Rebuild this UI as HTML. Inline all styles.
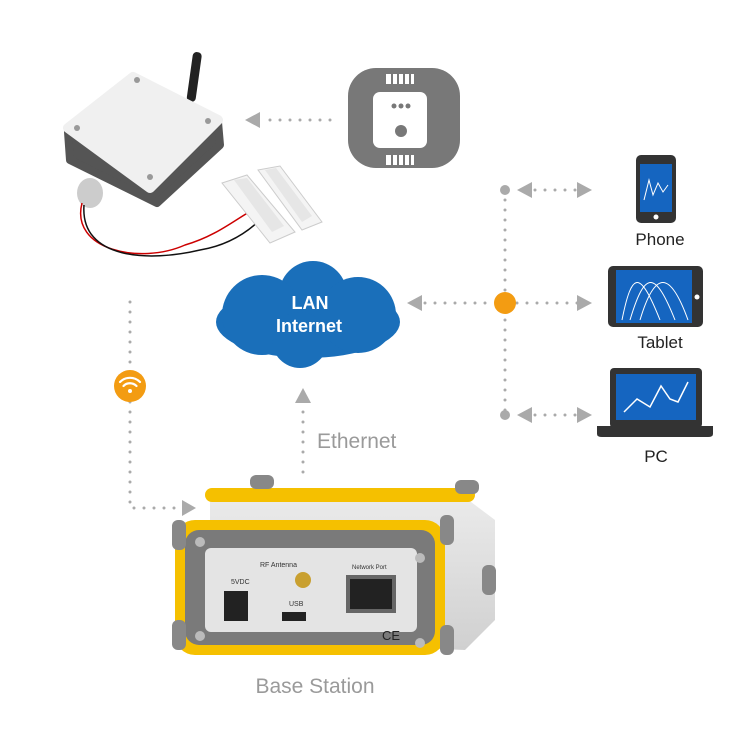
<!DOCTYPE html>
<html><head><meta charset="utf-8"><style>body{margin:0;background:#fff}svg{display:block}</style></head><body>
<svg width="750" height="750" viewBox="0 0 750 750" xmlns="http://www.w3.org/2000/svg" font-family="Liberation Sans, sans-serif">
<defs>
<linearGradient id="sil" x1="0" y1="0" x2="0" y2="1"><stop offset="0" stop-color="#ececec"/><stop offset="1" stop-color="#d0d0d0"/></linearGradient>
</defs>
<g stroke="#aaa" stroke-width="3" stroke-linecap="round" stroke-dasharray="0 10" fill="none">
<path d="M130 302 V508 H180"/>
<path d="M303 472 V408"/>
<path d="M330 120 H262"/>
<path d="M505 190 V415"/>
<path d="M425 303 H495 M517 303 H578"/>
<path d="M535 190 H578 M535 415 H578"/>
</g>
<g fill="#aaa">
<polygon points="196,508 182,500 182,516"/>
<polygon points="303,388 295,403 311,403"/>
<polygon points="245,120 260,112 260,128"/>
<polygon points="407,303 422,295 422,311"/>
<polygon points="592,303 577,295 577,311"/>
<polygon points="517,190 532,182 532,198"/>
<polygon points="592,190 577,182 577,198"/>
<polygon points="517,415 532,407 532,423"/>
<polygon points="592,415 577,407 577,423"/>
<circle cx="505" cy="190" r="5"/><circle cx="505" cy="415" r="5"/>
</g>
<circle cx="505" cy="303" r="11" fill="#f39c12"/>
<circle cx="130" cy="386" r="16" fill="#f39c12"/>
<g fill="none" stroke="#fff" stroke-width="2.2" stroke-linecap="round">
<path d="M120 382 A14 14 0 0 1 140 382"/><path d="M123.5 386 A9 9 0 0 1 136.5 386"/>
</g>
<circle cx="130" cy="391" r="2" fill="#fff"/>
<g fill="#1a6fba">
<ellipse cx="308" cy="322" rx="92" ry="36"/>
<circle cx="313" cy="295" r="34"/>
<circle cx="262" cy="315" r="40"/>
<circle cx="358" cy="315" r="38"/>
<circle cx="300" cy="340" r="28"/>
</g>
<text x="310" y="309" fill="#fff" font-size="18" font-weight="bold" text-anchor="middle">LAN</text>
<text x="309" y="332" fill="#fff" font-size="18" font-weight="bold" text-anchor="middle">Internet</text>
<text x="317" y="448" fill="#9a9a9a" font-size="21" font-family="Liberation Sans Narrow, Liberation Sans, sans-serif">Ethernet</text>
<rect x="348" y="68" width="112" height="100" rx="28" fill="#787878"/>
<rect x="373" y="92" width="54" height="56" rx="7" fill="#fff"/>
<g fill="#fff"><rect x="386" y="74" width="28" height="10"/><rect x="386" y="155" width="28" height="10"/></g>
<g fill="#787878"><rect x="391" y="74" width="2" height="10"/><rect x="397" y="74" width="2" height="10"/><rect x="403" y="74" width="2" height="10"/><rect x="409" y="74" width="2" height="10"/>
<rect x="391" y="155" width="2" height="10"/><rect x="397" y="155" width="2" height="10"/><rect x="403" y="155" width="2" height="10"/><rect x="409" y="155" width="2" height="10"/>
<circle cx="394" cy="106" r="2.5"/><circle cx="401" cy="106" r="2.5"/><circle cx="408" cy="106" r="2.5"/><circle cx="401" cy="131" r="6"/></g>
<!-- sensor device -->
<rect x="190" y="52" width="9" height="50" rx="4" fill="#222" transform="rotate(8 195 75)"/>
<polygon points="68,132 133,80 218,122 220,145 157,203 70,160" fill="#555" stroke="#555" stroke-width="8" stroke-linejoin="round"/>
<polygon points="68,128 133,77 218,120 150,188" fill="#f0f0f0" stroke="#f0f0f0" stroke-width="10" stroke-linejoin="round"/>
<g fill="#999"><circle cx="137" cy="80" r="3"/><circle cx="77" cy="128" r="3"/><circle cx="208" cy="121" r="3"/><circle cx="150" cy="177" r="3"/></g>
<ellipse cx="90" cy="193" rx="13" ry="15" fill="#ccc"/>
<path d="M82 203 C70 250 140 265 185 245 C220 235 240 215 262 205" stroke="#c00" stroke-width="1.5" fill="none"/>
<path d="M84 205 C80 260 150 262 200 250 C230 245 250 230 262 218" stroke="#111" stroke-width="1.5" fill="none"/>
<polygon points="222,183 247,175 295,232 270,243" fill="#f4f4f4" stroke="#ccc"/>
<polygon points="258,170 280,166 322,222 302,230" fill="#f4f4f4" stroke="#ccc"/>
<polygon points="234,180 247,178 284,226 272,232" fill="#e6e6e6"/>
<polygon points="265,170 276,168 312,216 302,222" fill="#e6e6e6"/>
<!-- phone -->
<rect x="636" y="155" width="40" height="68" rx="5" fill="#333"/>
<rect x="640" y="164" width="32" height="48" fill="#1565c0"/>
<circle cx="656" cy="217" r="2.5" fill="#fff"/>
<path d="M644 200 L649 180 L653 195 L658 183 L663 192 L668 185" stroke="#fff" fill="none"/>
<text x="660" y="245" font-size="17" text-anchor="middle" fill="#222">Phone</text>
<rect x="608" y="266" width="95" height="61" rx="5" fill="#333"/>
<rect x="616" y="270" width="76" height="53" fill="#1565c0"/>
<path d="M622 320 C632 270 640 270 660 320 M630 320 C645 270 655 270 675 320 M640 320 C655 270 670 270 688 320" stroke="#fff" fill="none"/>
<circle cx="697" cy="297" r="2.5" fill="#fff"/>
<text x="660" y="348" font-size="17" text-anchor="middle" fill="#222">Tablet</text>
<rect x="610" y="368" width="92" height="60" rx="4" fill="#333"/>
<rect x="616" y="374" width="80" height="46" fill="#1565c0"/>
<path d="M624 412 L637 399 L650 407 L661 386 L670 399 L678 402 L688 382" stroke="#fff" stroke-width="1.5" fill="none"/>
<path d="M597 426 H713 V434 Q713 437 708 437 H602 Q597 437 597 434 Z" fill="#333"/>
<text x="656" y="462" font-size="17" text-anchor="middle" fill="#222">PC</text>
<!-- base station -->
<polygon points="210,500 455,490 495,520 495,620 465,650 210,640" fill="url(#sil)"/>
<rect x="205" y="488" width="270" height="14" rx="7" fill="#f5c000"/>
<rect x="175" y="520" width="270" height="135" rx="20" fill="#f5c000"/>
<rect x="185" y="530" width="250" height="115" rx="14" fill="#7a7a7a"/>
<rect x="205" y="548" width="212" height="84" rx="6" fill="#e4e4e4"/>
<g fill="#888"><rect x="172" y="520" width="14" height="30" rx="6"/><rect x="172" y="620" width="14" height="30" rx="6"/><rect x="440" y="515" width="14" height="30" rx="6"/><rect x="440" y="625" width="14" height="30" rx="6"/><rect x="250" y="475" width="24" height="14" rx="6"/><rect x="455" y="480" width="24" height="14" rx="6"/><rect x="482" y="565" width="14" height="30" rx="6"/></g>
<g fill="#bbb"><circle cx="200" cy="542" r="5"/><circle cx="200" cy="636" r="5"/><circle cx="420" cy="558" r="5"/><circle cx="420" cy="643" r="5"/></g>
<text x="260" y="567" font-size="7" fill="#333">RF Antenna</text>
<text x="352" y="569" font-size="6" fill="#333">Network Port</text>
<text x="231" y="584" font-size="7" fill="#333">5VDC</text>
<text x="289" y="606" font-size="7" fill="#333">USB</text>
<rect x="224" y="591" width="24" height="30" fill="#222"/>
<rect x="282" y="612" width="24" height="9" fill="#222"/>
<circle cx="303" cy="580" r="8" fill="#c9a030"/>
<rect x="346" y="575" width="50" height="38" fill="#666"/><rect x="350" y="579" width="42" height="30" fill="#222"/>
<text x="382" y="640" font-size="13" fill="#222">CE</text>
<text x="315" y="693" font-size="21" fill="#9a9a9a" text-anchor="middle" font-family="Liberation Sans Narrow, Liberation Sans, sans-serif">Base Station</text>
</svg>
</body></html>
